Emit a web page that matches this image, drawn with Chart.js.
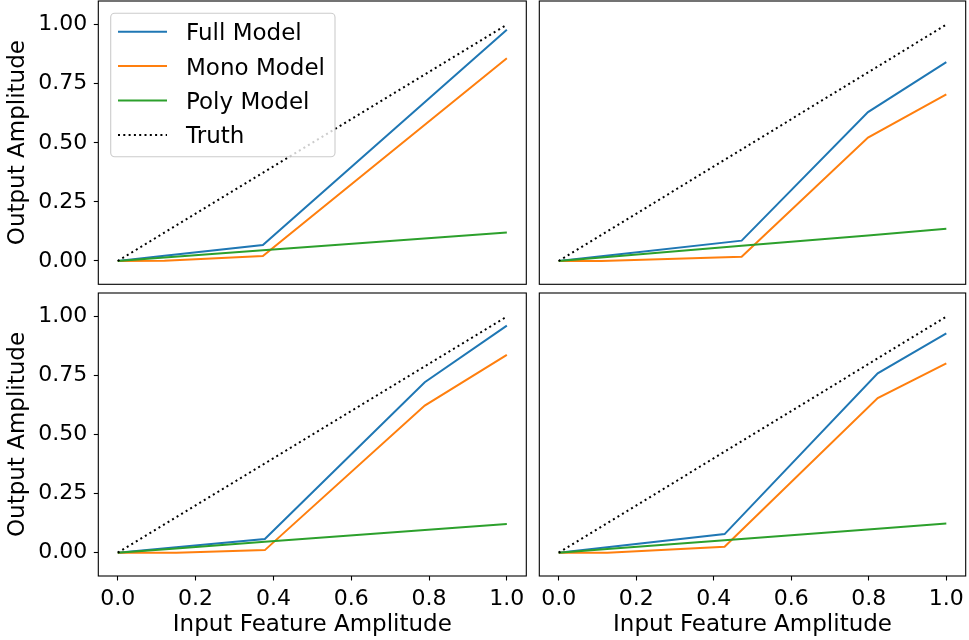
<!DOCTYPE html>
<html>
<head>
<meta charset="utf-8">
<script src="https://cdn.jsdelivr.net/npm/chart.js@4.4.1/dist/chart.umd.min.js"></script>
<style>
html, body { margin: 0; padding: 0; background: #fff; }
#fig { position: relative; width: 969px; height: 640px; overflow: hidden; }
canvas { position: absolute; }
</style>
</head>
<body>
<div id="fig">
  <canvas id="c00" width="535" height="289" style="left:0;top:0"></canvas>
  <canvas id="c01" width="434" height="289" style="left:535px;top:0"></canvas>
  <canvas id="c10" width="535" height="351" style="left:0;top:289px"></canvas>
  <canvas id="c11" width="434" height="351" style="left:535px;top:289px"></canvas>
</div>
<script>
const seriesNames = ['Full Model', 'Mono Model', 'Poly Model', 'Truth'];
const seriesColors = ['#1f77b4', '#ff7f0e', '#2ca02c', '#000000'];
const xTicks = [0, 0.2, 0.4, 0.6, 0.8, 1.0];
const yTicks = [0, 0.25, 0.5, 0.75, 1.0];
const truthX = [0, 1];
const truthY = [0, 1];

// top left
const xA = [0, 0.12, 0.373, 1.0];
const fullA = [0, 0.022, 0.068, 0.978];
const monoA = [0, 0.001, 0.021, 0.858];
const polyA = [0, 0.015, 0.045, 0.121];

// top right
const xB = [0, 0.11, 0.472, 0.798, 1.0];
const fullB = [0, 0.02, 0.086, 0.63, 0.841];
const monoB = [0, 0.0, 0.018, 0.522, 0.705];
const polyB = [0, 0.015, 0.064, 0.108, 0.136];

// bottom left
const xC = [0, 0.15, 0.378, 0.789, 1.0];
const fullC = [0, 0.023, 0.058, 0.722, 0.962];
const monoC = [0, 0.0, 0.011, 0.623, 0.838];
const polyC = [0, 0.018, 0.046, 0.096, 0.122];

// bottom right
const xD = [0, 0.125, 0.428, 0.823, 1.0];
const fullD = [0, 0.023, 0.079, 0.76, 0.929];
const monoD = [0, 0.0, 0.025, 0.655, 0.802];
const polyD = [0, 0.016, 0.053, 0.102, 0.124];

const tickFont = { family: 'DejaVu Sans', size: 22 };
const labelFont = { family: 'DejaVu Sans', size: 23 };

const frame = {
  id: 'frame',
  afterDraw(chart) {
    const a = chart.chartArea, c = chart.ctx;
    c.save();
    c.strokeStyle = '#000';
    c.lineWidth = 1.1;
    c.strokeRect(a.left, a.top, a.right - a.left, a.bottom - a.top);
    c.restore();
  }
};

const boxLegend = {
  id: 'boxLegend',
  afterDraw(chart) {
    const a = chart.chartArea, c = chart.ctx;
    const x0 = a.left + 12.4, y0 = a.top + 12.3, w = 224.3, h = 143.4;
    c.save();
    c.beginPath();
    c.roundRect(x0, y0, w, h, 4);
    c.fillStyle = 'rgba(255,255,255,0.8)';
    c.fill();
    c.strokeStyle = '#cccccc';
    c.lineWidth = 1.1;
    c.stroke();
    c.font = '23px "DejaVu Sans"';
    c.textBaseline = 'alphabetic';
    c.fillStyle = '#000';
    seriesNames.forEach((name, i) => {
      const y = y0 + 18.4 + i * 34.4;
      c.beginPath();
      c.setLineDash(i === 3 ? [2, 3.3] : []);
      c.strokeStyle = seriesColors[i];
      c.lineWidth = 2;
      c.moveTo(x0 + 7.3, y);
      c.lineTo(x0 + 56.3, y);
      c.stroke();
      c.fillText(name, x0 + 75.3, y + 8.4);
    });
    c.restore();
  }
};

function noPad(s) {
  s.paddingTop = 0; s.paddingBottom = 0; s.paddingLeft = 0; s.paddingRight = 0;
}

function buildChart(id, xs, full, mono, poly, o) {
  const pts = ys => ys.map((y, i) => ({ x: xs[i], y: y }));
  const datasets = [full, mono, poly].map((ys, i) => ({
    label: seriesNames[i],
    data: pts(ys),
    borderColor: seriesColors[i],
    borderWidth: 2,
    pointRadius: 0,
    order: 4 - i
  }));
  datasets.push({
    label: seriesNames[3],
    data: truthX.map((x, i) => ({ x: x, y: truthY[i] })),
    borderColor: seriesColors[3],
    borderWidth: 2,
    borderDash: [2, 3.3],
    pointRadius: 0,
    order: 1
  });

  const xScale = {
    type: 'linear', min: -0.05, max: 1.05,
    display: o.showX,
    afterBuildTicks: s => { s.ticks = xTicks.map(v => ({ value: v })); },
    afterFit: s => { if (o.showX) s.height = 64; noPad(s); },
    ticks: { callback: v => v.toFixed(1), color: '#000', font: tickFont, padding: 6, maxRotation: 0, autoSkip: false },
    grid: { drawOnChartArea: false, tickLength: 4.5, tickColor: '#000', tickWidth: 1.1 },
    border: { display: false },
    title: { display: true, text: 'Input Feature Amplitude', color: '#000', font: labelFont, padding: { top: 0, bottom: 1.3 } }
  };

  const yScale = {
    type: 'linear', min: -0.0986, max: 1.1,
    display: o.showY,
    afterBuildTicks: s => { s.ticks = yTicks.map(v => ({ value: v })); },
    afterFit: s => { if (o.showY) s.width = 98.3; noPad(s); },
    ticks: { callback: v => v.toFixed(2), color: '#000', font: tickFont, padding: 6.5 },
    grid: { drawOnChartArea: false, tickLength: 4.5, tickColor: '#000', tickWidth: 1.1 },
    border: { display: false },
    title: { display: true, text: 'Output Amplitude', color: '#000', font: labelFont, padding: { top: 4.6, bottom: 0 } }
  };

  return new Chart(document.getElementById(id), {
    type: 'line',
    data: { datasets: datasets },
    options: {
      responsive: false,
      animation: false,
      parsing: false,
      layout: { padding: o.padding },
      scales: { x: xScale, y: yScale },
      plugins: { legend: { display: false }, tooltip: { enabled: false } }
    },
    plugins: o.legend ? [frame, boxLegend] : [frame]
  });
}

buildChart('c00', xA, fullA, monoA, polyA,
  { showX: false, showY: true, legend: true, padding: { left: 0, top: 1, right: 8.7, bottom: 4.7 } });
buildChart('c01', xB, fullB, monoB, polyB,
  { showX: false, showY: false, legend: false, padding: { left: 4.3, top: 1, right: 3.3, bottom: 4.7 } });
buildChart('c10', xC, fullC, monoC, polyC,
  { showX: true, showY: true, legend: false, padding: { left: 0, top: 4, right: 8.7, bottom: 0 } });
buildChart('c11', xD, fullD, monoD, polyD,
  { showX: true, showY: false, legend: false, padding: { left: 4.3, top: 4, right: 3.3, bottom: 0 } });
</script>
</body>
</html>
